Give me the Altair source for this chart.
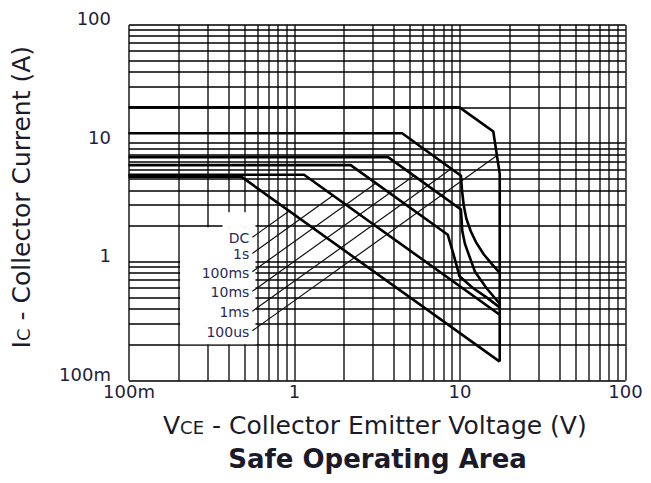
import altair as alt
import pandas as pd

# ---------------- data ----------------
grid_vals = [0.1, 0.2, 0.3, 0.4, 0.5, 0.6, 0.7, 0.8, 0.9,
             1, 2, 3, 4, 5, 6, 7, 8, 9,
             10, 20, 30, 40, 50, 60, 70, 80, 90, 100]

curve_names = ["DC", "1s", "100ms", "10ms", "1ms", "100us"]

dc_v = [0.1, 0.48, 17.5]
dc_i = [5.2, 5.2, 0.143]

s1_v = [0.1, 1.15, 17.5]
s1_i = [5.4, 5.4, 0.355]

ms100_v = [0.1, 2.2, 8.5, 9.2, 10.0, 12.0, 14.5, 17.5]
ms100_i = [6.5, 6.5, 1.68, 1.15, 0.75, 0.6, 0.5, 0.41]

ms10_v = [0.1, 3.7, 10.2, 10.4, 10.8, 12.4, 14.5, 17.5]
ms10_i = [7.6, 7.6, 2.75, 1.8, 1.4, 0.82, 0.6, 0.44]

ms1_v = [0.1, 4.5, 10.2, 10.35, 10.6, 11.0, 11.7, 12.6, 14.0, 15.7, 17.5]
ms1_i = [12.1, 12.1, 5.3, 4.0, 3.0, 2.3, 1.8, 1.45, 1.15, 0.95, 0.8]

us100_v = [0.1, 10.0, 16.0, 17.5, 17.5]
us100_i = [20, 20, 12.5, 5.5, 0.143]

label_v = [0.537, 0.537, 0.537, 0.537, 0.537, 0.537]
label_i = [1.43, 1.053, 0.732, 0.499, 0.340, 0.232]

leader_v1 = [0.56, 0.56, 0.56, 0.56, 0.56, 0.56]
leader_i1 = [1.6, 1.17, 0.82, 0.56, 0.38, 0.26]
leader_v2 = [0.935, 1.72, 3.12, 5.3, 8.96, 16.85]
leader_i2 = [2.67, 3.6, 4.58, 5.3, 6.08, 7.85]

box_v1 = [0.205, 0.37]
box_v2 = [0.585, 0.585]
box_i1 = [0.2, 1.95]
box_i2 = [1.95, 2.6]

# ---------------- tables ----------------
rows = []
for name, vs, cs in [("DC", dc_v, dc_i), ("1s", s1_v, s1_i),
                     ("100ms", ms100_v, ms100_i), ("10ms", ms10_v, ms10_i),
                     ("1ms", ms1_v, ms1_i), ("100us", us100_v, us100_i)]:
    for k, (v, c) in enumerate(zip(vs, cs)):
        rows.append({"curve": name, "k": k, "V": v, "I": c})
curves_df = pd.DataFrame(rows)

labels_df = pd.DataFrame({"lab": curve_names, "V": label_v, "I": label_i})
leaders_df = pd.DataFrame({"V": leader_v1, "I": leader_i1, "V2": leader_v2, "I2": leader_i2})
box_df = pd.DataFrame({"V": box_v1, "V2": box_v2, "I": box_i1, "I2": box_i2})

# ---------------- encodings ----------------
TXT = "#1e1e3c"
FONT = "DejaVu Sans"
label_expr = ("datum.value == 0.1 ? '100m' : datum.value == 1 ? '1' : "
              "datum.value == 10 ? '10' : datum.value == 100 ? '100' : ''")

xs = alt.Scale(type="log", domain=[0.1, 100], nice=False)
ys = alt.Scale(type="log", domain=[0.1, 100], nice=False)

xaxis = alt.Axis(values=grid_vals, labelExpr=label_expr, grid=True, gridColor="black",
                 gridWidth=1.3, gridOpacity=1, ticks=False, domain=False, title=None,
                 labelFont=FONT, labelFontSize=18, labelColor=TXT, labelPadding=3,
                 labelFlush=False, labelOverlap=False, labelBaseline="top")
yaxis = alt.Axis(values=grid_vals, labelExpr=label_expr, grid=True, gridColor="black",
                 gridWidth=1.3, gridOpacity=1, ticks=False, domain=False, title=None,
                 labelFont=FONT, labelFontSize=18, labelColor=TXT, labelPadding=18,
                 labelFlush=False, labelOverlap=False, labelBaseline="alphabetic")

X = alt.X("V:Q", scale=xs, axis=xaxis)
Y = alt.Y("I:Q", scale=ys, axis=yaxis)

box = alt.Chart(box_df).mark_rect(color="white").encode(x=X, x2="V2:Q", y=Y, y2="I2:Q")
leaders = alt.Chart(leaders_df).mark_rule(color="#111111", strokeWidth=1.2).encode(
    x=X, x2="V2:Q", y=Y, y2="I2:Q")
curves = alt.Chart(curves_df).mark_line(color="black", strokeWidth=2.6).encode(
    x=X, y=Y, detail="curve:N", order="k:Q")
labels = alt.Chart(labels_df).mark_text(align="right", baseline="alphabetic", font=FONT,
                                        fontSize=14, color="#2a2a5a").encode(x=X, y=Y, text="lab:N")

# titles (text pieces so that the subscripts are smaller)
TOP = 16.5
SH = 3.0  # shift of the plot top compared with the first layout
def piece(txt, x, y, size, angle=0, weight="normal", align="left"):
    return alt.Chart(pd.DataFrame({"t": [txt]})).mark_text(
        align=align, baseline="alphabetic", font=FONT, fontSize=size, angle=angle,
        fontWeight=weight, color="#1a1a2a").encode(
        text="t:N", x=alt.value(x), y=alt.value(y))

t_v = piece("V", 34.5, 412 - SH, 25)
t_ce = piece("CE", 51.6, 412 - SH, 18)
t_rest = piece("- Collector Emitter Voltage (V)", 83.5, 412 - SH, 25)
t_i = piece("I", -98.5, 327 - SH, 25, angle=270)
t_c = piece("C", -98.5, 319.6 - SH, 18, angle=270)
t_yrest = piece("- Collector Current (A)", -98.5, 299 - SH, 25, angle=270)
t_title = piece("Safe Operating Area", 249, 446.5 - SH, 26, weight="bold", align="center")

chart = alt.layer(box, leaders, curves, labels, t_v, t_ce, t_rest, t_i, t_c, t_yrest, t_title).properties(
    width=496.5, height=355.5,
    padding={"left": 120.5, "top": TOP, "right": 18, "bottom": 95},
    autosize=alt.AutoSizeParams(type="none"),
).configure_view(stroke="black", strokeWidth=1.6).configure(font=FONT)

chart.save("out.html", embed_options={"renderer": "svg", "actions": False})
